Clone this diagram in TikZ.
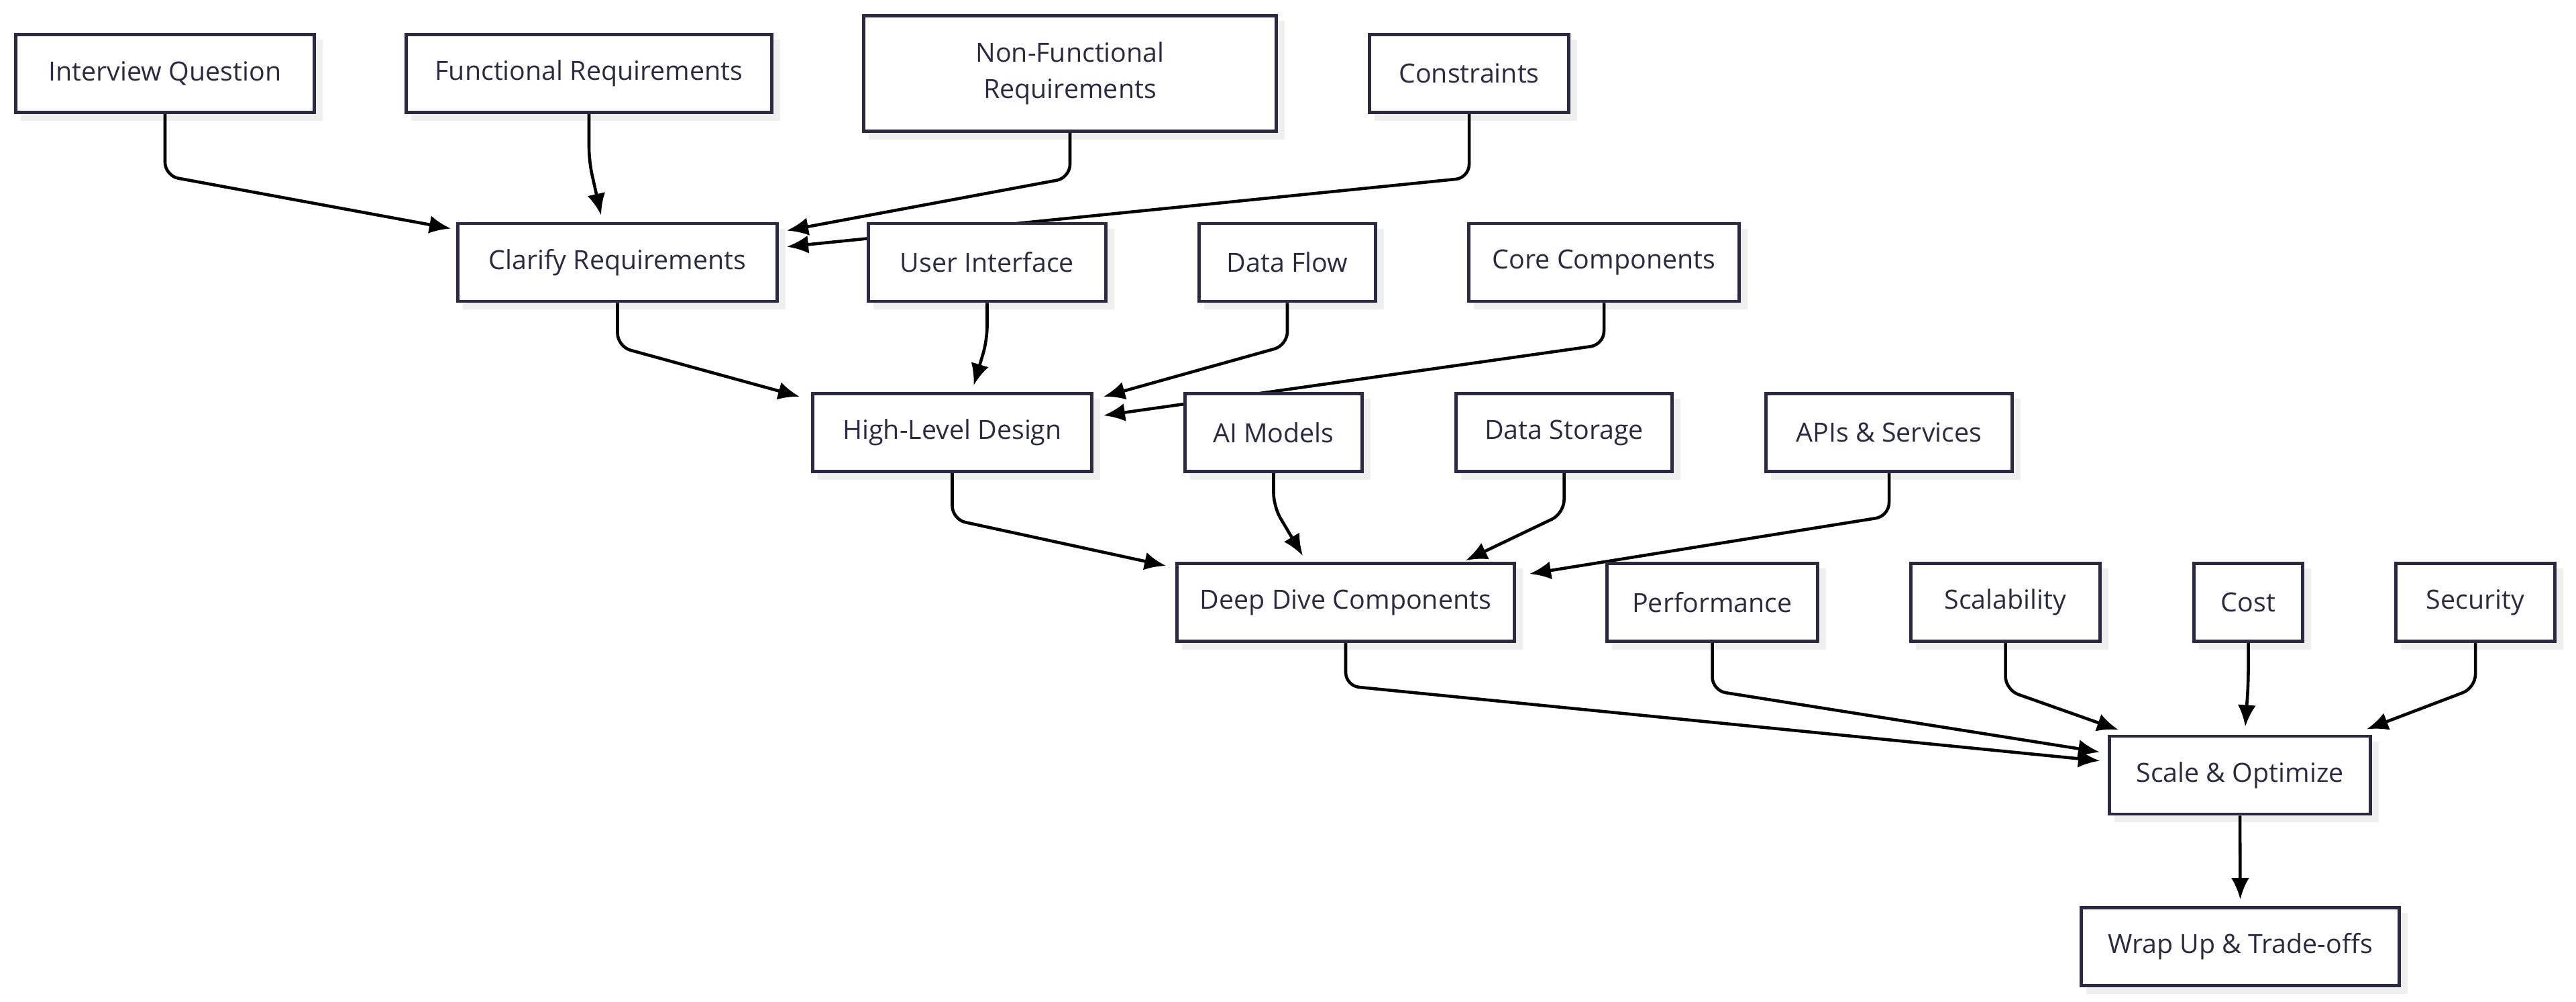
\documentclass[tikz,border=0pt]{standalone}
\usepackage{fontspec}
\setmainfont{Open Sans}
\usepackage{tikz}
\usetikzlibrary{arrows.meta}
\usetikzlibrary{positioning}
\definecolor{boxline}{HTML}{2B2A40}
\definecolor{boxshadow}{HTML}{EFEFEF}
\tikzstyle{line} = [draw, line width=1.3pt, rounded corners=0.2cm, -{Latex[length=0.32cm,width=0.27cm]}]
\tikzset{
    stepbox/.style={draw=boxline, fill=white, line width=1.4pt, text=boxline,
        minimum height=1.16cm, inner sep=0pt, font=\fontsize{11.2}{15.3}\selectfont},
}
\pgfdeclarelayer{background}
\pgfdeclarelayer{edges}
\pgfsetlayers{background,edges,main}

\begin{document}
\begin{tikzpicture}
	\useasboundingbox (0,0) rectangle (38.4,-14.92);
	\node[stepbox, minimum width=4.45cm] (iq) at (2.46,-1.095) {Interview Question};
	\node[stepbox, minimum width=5.45cm] (fr) at (8.78,-1.095) {Functional Requirements};
	\node[stepbox, minimum width=6.15cm, minimum height=1.72cm, align=center] (nfr) at (15.95,-1.095) {Non-Functional\\Requirements};
	\node[stepbox, minimum width=2.97cm] (con) at (21.90,-1.095) {Constraints};
	\node[stepbox, minimum width=4.76cm] (clar) at (9.205,-3.91) {Clarify Requirements};
	\node[stepbox, minimum width=3.54cm] (ui) at (14.715,-3.91) {User Interface};
	\node[stepbox, minimum width=2.63cm] (df) at (19.19,-3.91) {Data Flow};
	\node[stepbox, minimum width=4.03cm] (cc) at (23.91,-3.91) {Core Components};
	\node[stepbox, minimum width=4.16cm] (hld) at (14.195,-6.445) {High-Level Design};
	\node[stepbox, minimum width=2.64cm] (aim) at (18.985,-6.445) {AI Models};
	\node[stepbox, minimum width=3.22cm] (ds) at (23.315,-6.445) {Data Storage};
	\node[stepbox, minimum width=3.67cm] (api) at (28.16,-6.445) {APIs \& Services};
	\node[stepbox, minimum width=5.03cm] (ddc) at (20.06,-8.975) {Deep Dive Components};
	\node[stepbox, minimum width=3.14cm] (perf) at (25.525,-8.975) {Performance};
	\node[stepbox, minimum width=2.82cm] (scal) at (29.895,-8.975) {Scalability};
	\node[stepbox, minimum width=1.62cm] (cost) at (33.515,-8.975) {Cost};
	\node[stepbox, minimum width=2.37cm] (sec) at (36.90,-8.975) {Security};
	\node[stepbox, minimum width=3.89cm] (so) at (33.39,-11.55) {Scale \& Optimize};
	\node[stepbox, minimum width=4.74cm] (wu) at (33.395,-14.105) {Wrap Up \& Trade-offs};
\begin{pgfonlayer}{background}
	\foreach \n in {iq,fr,nfr,con,clar,ui,df,cc,hld,aim,ds,api,ddc,perf,scal,cost,sec,so,wu}
		\fill[boxshadow] ([shift={(0.1,-0.1)}]\n.south west) rectangle ([shift={(0.1,-0.1)}]\n.north east);
\end{pgfonlayer}
\begin{pgfonlayer}{edges}
	\path[line] (iq.south) -- ++(0,-0.92) -- ([shift={(-0.08,-0.10)}]clar.north west);
	\path[line] (fr.south) -- ++(0,-0.70) -- ([shift={(-0.245,0.10)}]clar.north);
	\path[line] (nfr.south) -- ++(0,-0.67) -- ([shift={(0.12,-0.13)}]clar.north east);
	\path[line] (con.south) -- ++(0,-0.95) -- ([shift={(0.12,-0.37)}]clar.north east);
	\path[line] (clar.south) -- ++(0,-0.65) -- ([shift={(-0.17,-0.07)}]hld.north west);
	\path[line] (ui.south) -- ++(0,-0.55) -- ([shift={(0.32,0.10)}]hld.north);
	\path[line] (df.south) -- ++(0,-0.63) -- ([shift={(0.15,-0.07)}]hld.north east);
	\path[line] (cc.south) -- ++(0,-0.62) -- ([shift={(0.15,-0.35)}]hld.north east);
	\path[line] (hld.south) -- ++(0,-0.69) -- ([shift={(-0.14,-0.06)}]ddc.north west);
	\path[line] (aim.south) -- ++(0,-0.50) -- ([shift={(-0.64,0.09)}]ddc.north);
	\path[line] (ds.south) -- ++(0,-0.60) -- ([shift={(-0.75,0.02)}]ddc.north east);
	\path[line] (api.south) -- ++(0,-0.64) -- ([shift={(0.20,-0.18)}]ddc.north east);
	\path[line] (ddc.south) -- ++(0,-0.64) -- ([shift={(-0.12,-0.39)}]so.north west);
	\path[line] (perf.south) -- ++(0,-0.71) -- ([shift={(-0.12,-0.26)}]so.north west);
	\path[line] (scal.south) -- ++(0,-0.70) -- ([shift={(0.16,0.07)}]so.north west);
	\path[line] (cost.south) -- ++(0,-0.60) -- ([shift={(0.08,0.12)}]so.north);
	\path[line] (sec.south) -- ++(0,-0.67) -- ([shift={(-0.08,0.08)}]so.north east);
	\path[line] (so.south) -- ([yshift=0.1cm]wu.north);
\end{pgfonlayer}
\end{tikzpicture}
\end{document}
